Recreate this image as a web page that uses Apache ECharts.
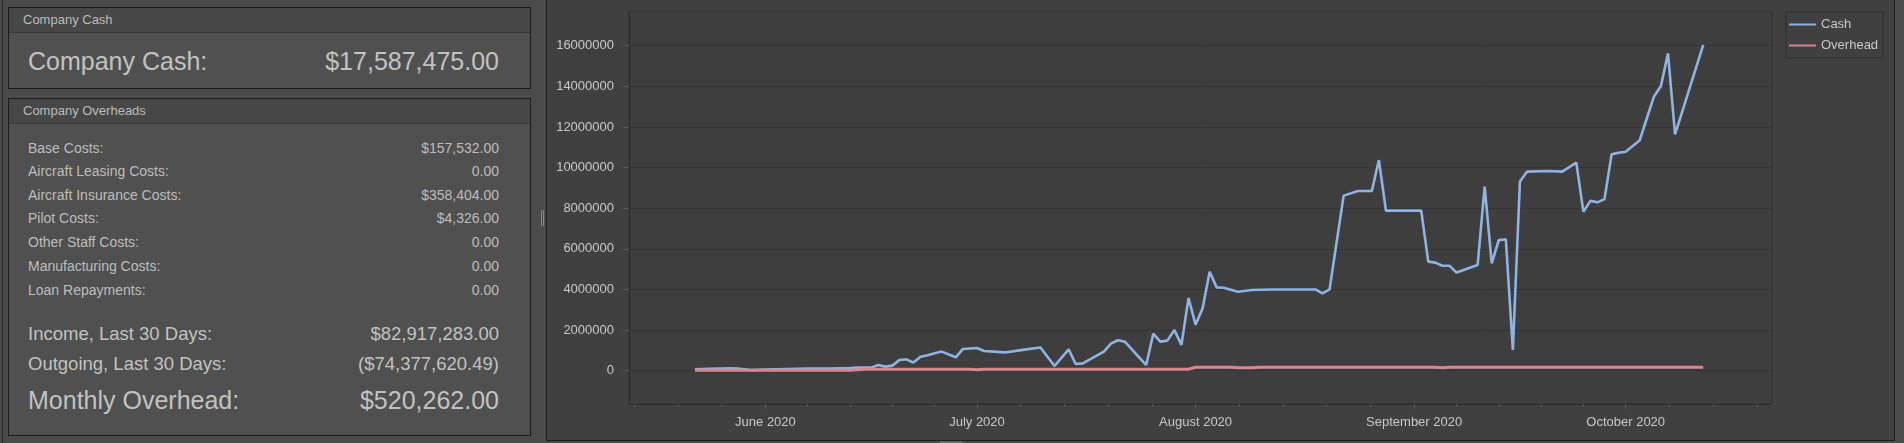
<!DOCTYPE html>
<html><head><meta charset="utf-8">
<script src="https://cdn.jsdelivr.net/npm/echarts@6/dist/echarts.min.js"></script>
<style>
html,body{margin:0;padding:0;width:1904px;height:443px;overflow:hidden;background:#4b4b4b;font-family:"Liberation Sans",Arial,sans-serif;}
.abs{position:absolute;}
.panel{position:absolute;box-sizing:border-box;border:1px solid #1c1c1c;background:#505050;}
.hdr{position:absolute;left:0;right:0;top:0;background:#474747;border-bottom:1px solid #383838;}
.t{position:absolute;white-space:nowrap;color:#c2c2c2;line-height:1;}
.r{text-align:right;}
#chartPanel{position:absolute;left:546px;top:-1px;width:1349px;height:442px;box-sizing:border-box;border:1px solid #1e1e1e;background:#404040;}
#chart{position:absolute;left:0;top:0;width:1347px;height:440px;}
</style></head>
<body>
<div class="abs" style="left:2px;top:0;width:1px;height:443px;background:#2a2a2a"></div>

<div class="panel" style="left:8px;top:7px;width:523px;height:82px;">
  <div class="hdr" style="height:24px;"></div>
</div>
<div class="t" style="left:23px;top:13px;font-size:13px;color:#bcbcbc">Company Cash</div>
<div class="t" style="left:28px;top:49px;font-size:25px;">Company Cash:</div>
<div class="t r" style="right:1405px;top:49px;font-size:25px;">$17,587,475.00</div>

<div class="panel" style="left:8px;top:98px;width:523px;height:338px;">
  <div class="hdr" style="height:24px;"></div>
</div>
<div class="t" style="left:23px;top:104px;font-size:13px;color:#bcbcbc">Company Overheads</div>

<div id="rows"></div>

<div class="abs" style="left:541px;top:210px;width:1px;height:16px;background:#8a8a8a"></div>
<div class="abs" style="left:543px;top:210px;width:1px;height:16px;background:#8a8a8a"></div>

<div id="chartPanel"><div id="chart"></div></div>
<div class="abs" style="left:940px;top:441px;width:22px;height:2px;background:#6a6a6a"></div>

<script>
// ---------- left panel figures ----------
const overheadLabels = ["Base Costs:", "Aircraft Leasing Costs:", "Aircraft Insurance Costs:", "Pilot Costs:", "Other Staff Costs:", "Manufacturing Costs:", "Loan Repayments:"];
const overheadValues = ["$157,532.00", "0.00", "$358,404.00", "$4,326.00", "0.00", "0.00", "0.00"];
const summaryLabels = ["Income, Last 30 Days:", "Outgoing, Last 30 Days:", "Monthly Overhead:"];
const summaryValues = ["$82,917,283.00", "($74,377,620.49)", "$520,262.00"];

// ---------- chart data ----------
const cashDates = ["2020-05-22","2020-05-24","2020-05-26","2020-05-27","2020-05-28","2020-05-30","2020-06-01","2020-06-04","2020-06-07","2020-06-10","2020-06-13","2020-06-14","2020-06-16","2020-06-17","2020-06-18","2020-06-19","2020-06-20","2020-06-21","2020-06-22","2020-06-23","2020-06-24","2020-06-25","2020-06-26","2020-06-28","2020-06-29","2020-07-01","2020-07-02","2020-07-05","2020-07-08","2020-07-10","2020-07-12","2020-07-14","2020-07-15","2020-07-16","2020-07-19","2020-07-20","2020-07-21","2020-07-22","2020-07-25","2020-07-26","2020-07-27","2020-07-28","2020-07-29","2020-07-30","2020-07-31","2020-08-01","2020-08-02","2020-08-03","2020-08-04","2020-08-05","2020-08-07","2020-08-09","2020-08-12","2020-08-18","2020-08-19","2020-08-20","2020-08-22","2020-08-23","2020-08-24","2020-08-26","2020-08-27","2020-08-28","2020-09-02","2020-09-03","2020-09-04","2020-09-05","2020-09-06","2020-09-07","2020-09-10","2020-09-11","2020-09-12","2020-09-13","2020-09-14","2020-09-15","2020-09-16","2020-09-17","2020-09-20","2020-09-22","2020-09-24","2020-09-25","2020-09-26","2020-09-27","2020-09-28","2020-09-29","2020-09-30","2020-10-01","2020-10-03","2020-10-04","2020-10-05","2020-10-06","2020-10-07","2020-10-08","2020-10-12"];
const cashValues = [70000,90000,110000,120000,100000,30000,60000,80000,100000,110000,130000,150000,150000,280000,200000,250000,530000,560000,400000,690000,760000,860000,940000,660000,1070000,1120000,970000,900000,1050000,1140000,230000,1050000,330000,360000,940000,1330000,1500000,1420000,280000,1820000,1430000,1480000,2000000,1270000,3580000,2260000,3070000,4870000,4100000,4080000,3890000,3970000,4000000,4000000,3810000,4000000,8620000,8730000,8850000,8850000,10370000,7880000,7880000,5370000,5320000,5170000,5170000,4830000,5200000,9060000,5290000,6430000,6470000,1020000,9310000,9800000,9830000,9800000,10240000,7830000,8360000,8290000,8450000,10650000,10730000,10780000,11350000,12430000,13490000,14020000,15630000,11640000,16040000];

const overheadDates = ["2020-05-22","2020-06-13","2020-06-15","2020-06-30","2020-07-01","2020-07-02","2020-07-31","2020-08-01","2020-08-06","2020-08-07","2020-08-09","2020-08-10","2020-09-04","2020-09-05","2020-09-06","2020-10-12"];
const overheadSeries = [20000,20000,70000,70000,50000,70000,70000,170000,170000,140000,140000,170000,170000,140000,170000,170000];

const yTickValues = [0,2000000,4000000,6000000,8000000,10000000,12000000,14000000,16000000];
const monthStarts = ["2020-05-01","2020-06-01","2020-07-01","2020-08-01","2020-09-01","2020-10-01","2020-11-01"];
const monthNames = ["January","February","March","April","May","June","July","August","September","October","November","December"];

// ---------- build left panel rows ----------
(function(){
  const box = document.getElementById('rows');
  const rowTops = [141,164,188,211,235,259,283];
  let html = '';
  overheadLabels.forEach((l,i)=>{
    html += `<div class="t" style="left:28px;top:${rowTops[i]}px;font-size:14px;color:#bdbdbd">${l}</div>`;
    html += `<div class="t r" style="right:1405px;top:${rowTops[i]}px;font-size:14px;color:#bdbdbd">${overheadValues[i]}</div>`;
  });
  const sTops = [325,355,388];
  const sSizes = [18.5,18.5,25];
  summaryLabels.forEach((l,i)=>{
    html += `<div class="t" style="left:28px;top:${sTops[i]}px;font-size:${sSizes[i]}px;">${l}</div>`;
    html += `<div class="t r" style="right:1405px;top:${sTops[i]}px;font-size:${sSizes[i]}px;">${summaryValues[i]}</div>`;
  });
  box.innerHTML = html;
})();

// ---------- chart ----------
const toTs = s => { const p = s.split('-').map(Number); return +new Date(p[0], p[1]-1, p[2]); };
const majorTicks = monthStarts.map(toTs);
const minorTicks = [];
for (let i = 0; i < majorTicks.length - 1; i++) {
  const a = majorTicks[i], b = majorTicks[i+1];
  for (let k = 1; k < 5; k++) minorTicks.push(a + (b - a) * k / 5);
}
const xMin = +new Date(2020, 4, 12, 15, 36);
const xMax = +new Date(2020, 9, 21, 18, 0);
const inRange = v => v >= xMin && v <= xMax;

const chart = echarts.init(document.getElementById('chart'), null, {renderer: 'canvas'});
const font = '"Liberation Sans", Arial, sans-serif';
chart.setOption({
  animation: false,
  backgroundColor: 'transparent',
  textStyle: {fontFamily: font},
  grid: {left: 82, top: 11, width: 1143, height: 393, show: true, borderColor: '#323232', borderWidth: 1, backgroundColor: '#3e3e3e', containLabel: false},
  legend: {
    orient: 'vertical', left: 1239, top: 12,
    padding: [6, 5, 6, 3], itemGap: 8, itemWidth: 27, itemHeight: 2,
    borderColor: '#2d2d2d', borderWidth: 1, borderRadius: 0,
    textStyle: {color: '#c8c8c8', fontSize: 13, fontFamily: font},
    data: [{name: 'Cash', icon: 'rect'}, {name: 'Overhead', icon: 'rect'}]
  },
  xAxis: [{
    type: 'value', min: xMin, max: xMax, position: 'bottom',
    axisLine: {show: true, onZero: false, lineStyle: {color: '#2c2c2c', width: 1}},
    axisTick: {show: true, length: 5, lineStyle: {color: '#5a5a5a'}, customValues: majorTicks.filter(inRange)},
    axisLabel: {show: true, color: '#c8c8c8', fontSize: 13, margin: 12, fontFamily: font,
      customValues: majorTicks.filter(inRange),
      formatter: v => { const d = new Date(v); return monthNames[d.getMonth()] + ' ' + d.getFullYear(); }},
    splitLine: {show: false}
  }, {
    type: 'value', min: xMin, max: xMax, position: 'bottom', offset: 0,
    axisLine: {show: false, onZero: false},
    axisTick: {show: true, length: 3, lineStyle: {color: '#555555'}, customValues: minorTicks.filter(inRange)},
    axisLabel: {show: false},
    splitLine: {show: false}
  }],
  yAxis: {
    type: 'value', min: -1640000, max: 17710000,
    axisLine: {show: true, lineStyle: {color: '#2c2c2c'}},
    axisTick: {show: true, length: 6, lineStyle: {color: '#5a5a5a'}, customValues: yTickValues},
    axisLabel: {show: true, color: '#c8c8c8', fontSize: 13, margin: 15, fontFamily: font, customValues: yTickValues,
      formatter: v => String(Math.round(v))},
    splitLine: {show: true, lineStyle: {color: '#333333', width: 1}}
  },
  series: [{
    name: 'Cash', type: 'line', xAxisIndex: 0, showSymbol: false, symbol: 'none',
    lineStyle: {color: '#8fb4e4', width: 2.6}, itemStyle: {color: '#8fb4e4'},
    data: cashDates.map((d, i) => [toTs(d), cashValues[i]]), z: 2
  }, {
    name: 'Overhead', type: 'line', xAxisIndex: 0, showSymbol: false, symbol: 'none',
    lineStyle: {color: '#d6878f', width: 3}, itemStyle: {color: '#d6878f'},
    data: overheadDates.map((d, i) => [toTs(d), overheadSeries[i]]), z: 3
  }]
});
</script>
</body></html>
